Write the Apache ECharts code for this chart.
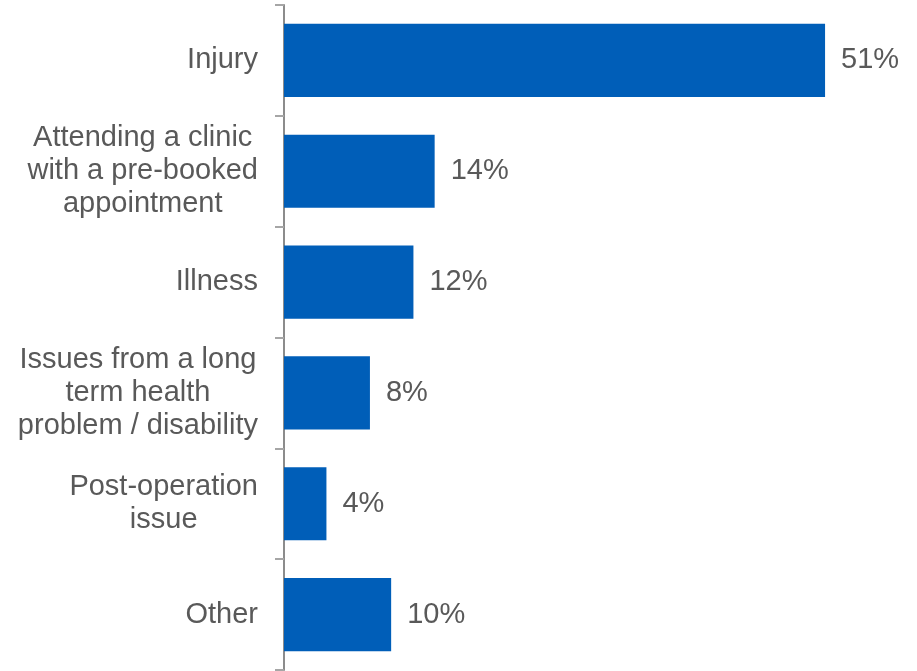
<!DOCTYPE html>
<html><head><meta charset="utf-8">
<script src="https://cdn.jsdelivr.net/npm/echarts@6/dist/echarts.min.js"></script>
<style>html,body{margin:0;padding:0;background:#fff}#c{width:917px;height:671px}</style>
</head><body><div id="c"></div>
<script>
const categories = ["Injury", "Attending a clinic\nwith a pre-booked\nappointment", "Illness", "Issues from a long\nterm health\nproblem / disability", "Post-operation\nissue", "Other"];
const values = [51, 14.2, 12.2, 8.1, 4.0, 10.1];
const FONT = 'Liberation Sans, Arial, sans-serif';
const chart = echarts.init(document.getElementById('c'));
chart.setOption({
  animation: false,
  grid: {left: 284, top: 5, bottom: 1, width: 583.5, containLabel: false},
  xAxis: {type: 'value', min: 0, max: 55, show: false},
  yAxis: {
    type: 'category', data: categories, inverse: true,
    axisLine: {show: true, lineStyle: {color: '#8c8c8c', width: 2}},
    axisTick: {show: true, length: 9, alignWithLabel: false, lineStyle: {color: '#a6a6a6', width: 2}},
    axisLabel: {
      color: '#595959', fontFamily: FONT, fontSize: 29, lineHeight: 33, align: 'right', margin: 26,
      formatter: v => v.split('\n').map(l => '{c|' + l + '}').join('\n'),
      rich: {c: {align: 'center', color: '#595959', fontFamily: FONT, fontSize: 29, lineHeight: 33}}
    }
  },
  series: [{
    type: 'bar', data: values, barCategoryGap: '34%',
    itemStyle: {color: '#005EB8'},
    label: {show: true, position: 'right', distance: 16, color: '#595959', fontFamily: FONT, fontSize: 29,
      formatter: p => Math.round(p.value) + '%'}
  }]
});
</script></body></html>
